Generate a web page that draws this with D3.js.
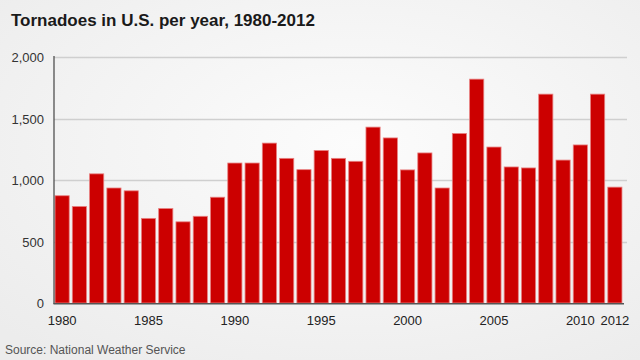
<!DOCTYPE html>
<html><head><meta charset="utf-8">
<script src="https://cdn.jsdelivr.net/npm/d3@7"></script>
<style>body{margin:0;padding:0;overflow:hidden}svg{display:block}</style>
</head><body>
<script>
const years = d3.range(1980, 2013);
const tornadoes = [872, 785, 1050, 935, 912, 688, 768, 660, 705, 860,
  1138, 1138, 1300, 1176, 1084, 1240, 1176, 1152, 1430, 1342,
  1082, 1220, 935, 1378, 1820, 1268, 1106, 1098, 1698, 1162,
  1285, 1698, 942];
const yTicks = [0, 500, 1000, 1500, 2000];
const xTickYears = [1980, 1985, 1990, 1995, 2000, 2005, 2010, 2012];
const title = "Tornadoes in U.S. per year, 1980-2012";
const source = "Source: National Weather Service";

const W = 640, H = 360;
const svg = d3.select("body").append("svg").attr("width", W).attr("height", H);
const defs = svg.append("defs");
const rg = defs.append("radialGradient").attr("id","bg").attr("cx","55%").attr("cy","40%").attr("r","75%");
rg.append("stop").attr("offset","0%").attr("stop-color","#fcfcfc");
rg.append("stop").attr("offset","100%").attr("stop-color","#ececec");
svg.append("rect").attr("width",W).attr("height",H).attr("fill","url(#bg)");

const x = d3.scaleBand().domain(years).range([54, 623]).paddingInner(0.18).paddingOuter(0.06);
const y = d3.scaleLinear().domain([0, 2000]).range([303, 57]);

// gridlines
svg.append("g").selectAll("line").data(yTicks.filter(d => d > 0)).join("line")
  .attr("x1", 54).attr("x2", 627)
  .attr("y1", d => Math.round(y(d)) + 0.5).attr("y2", d => Math.round(y(d)) + 0.5)
  .attr("stroke", "#cfcfcf").attr("stroke-width", 1.5);

// y labels
const yAxis = d3.axisLeft(y).tickValues(yTicks).tickSize(0).tickPadding(0).tickFormat(d3.format(","));
const gy = svg.append("g").attr("transform", "translate(44,0)").call(yAxis);
gy.select(".domain").remove();
gy.selectAll("text").attr("font-family", "Liberation Sans, Arial, sans-serif").attr("font-size", 13).attr("fill", "#333").attr("dy","0.35em");

// bars
svg.append("g").selectAll("rect").data(tornadoes).join("rect")
  .attr("x", (d, i) => x(years[i]))
  .attr("y", d => y(d))
  .attr("width", x.bandwidth())
  .attr("height", d => y(0) - y(d))
  .attr("fill", "#cc0000")
  .attr("stroke", "#e88080").attr("stroke-width", 0.8);

// axis lines
svg.append("line").attr("x1", 54).attr("x2", 54).attr("y1", 56).attr("y2", 304).attr("stroke", "#444").attr("stroke-width", 1.2);
svg.append("line").attr("x1", 53.5).attr("x2", 624).attr("y1", 303.8).attr("y2", 303.8).attr("stroke", "#555").attr("stroke-width", 1.6);

// x labels
const xAxis = d3.axisBottom(x).tickValues(xTickYears).tickSize(0).tickPadding(0);
const gx = svg.append("g").attr("transform", "translate(0,315)").call(xAxis);
gx.select(".domain").remove();
gx.selectAll("text").attr("font-family", "Liberation Sans, Arial, sans-serif").attr("font-size", 13).attr("fill", "#222").attr("dy","0.75em");

svg.append("text").attr("x", 11).attr("y", 26).text(title)
  .attr("font-family", "Liberation Sans, Arial, sans-serif").attr("font-weight", "bold").attr("font-size", 17).attr("fill", "#1a1a1a");
svg.append("text").attr("x", 5).attr("y", 354).text(source)
  .attr("font-family", "Liberation Sans, Arial, sans-serif").attr("font-size", 12).attr("fill", "#555");
</script>
</body></html>
